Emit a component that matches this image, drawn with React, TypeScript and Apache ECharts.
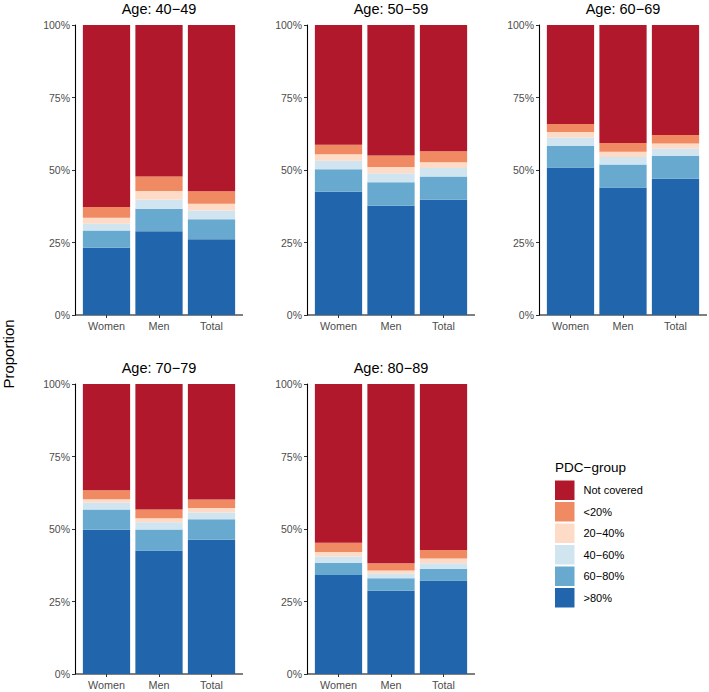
import React, { useEffect, useRef } from "react";
import * as echarts from "echarts";

const CATEGORIES = ["Women", "Men", "Total"];
const PANEL_TITLES = ["Age: 40−49", "Age: 50−59", "Age: 60−69", "Age: 70−79", "Age: 80−89"];
const GROUPS = [">80%", "60−80%", "40−60%", "20−40%", "<20%", "Not covered"];
const LEGEND_ORDER = ["Not covered", "<20%", "20−40%", "40−60%", "60−80%", ">80%"];
const Y_TICKS = [0, 25, 50, 75, 100];

// values per group: [panel][Women, Men, Total], in percent
const OVER_80 = [
  [23.2, 28.9, 26.1],
  [42.5, 37.7, 39.7],
  [50.9, 44.0, 47.0],
  [49.7, 42.6, 46.3],
  [34.1, 28.7, 32.2],
];
const P60_80 = [
  [5.9, 7.7, 6.9],
  [7.8, 8.1, 8.1],
  [7.4, 7.9, 7.8],
  [7.0, 7.2, 7.1],
  [4.3, 4.3, 4.1],
];
const P40_60 = [
  [2.4, 3.2, 3.0],
  [2.9, 3.1, 2.9],
  [2.9, 2.6, 2.5],
  [2.4, 2.5, 2.3],
  [2.1, 1.6, 1.9],
];
const P20_40 = [
  [2.0, 3.0, 2.4],
  [2.2, 2.1, 2.0],
  [1.9, 1.8, 1.8],
  [1.2, 1.4, 1.5],
  [1.6, 1.1, 1.6],
];
const UNDER_20 = [
  [3.7, 5.0, 4.3],
  [3.3, 4.0, 3.8],
  [2.8, 3.0, 3.0],
  [3.1, 3.0, 3.0],
  [3.2, 2.5, 3.0],
];
const NOT_COVERED = [
  [62.8, 52.2, 57.3],
  [41.3, 45.0, 43.5],
  [34.1, 40.7, 37.9],
  [36.6, 43.3, 39.8],
  [54.7, 61.8, 57.2],
];

const GROUP_VALUES = [OVER_80, P60_80, P40_60, P20_40, UNDER_20, NOT_COVERED];
const COLORS = ["#2166AC", "#67A9CF", "#D1E5F0", "#FDDBC7", "#EF8A62", "#B2182B"];

const FONT = "Liberation Sans, Arial, Helvetica, sans-serif";

export default function App() {
  const ref = useRef<HTMLDivElement>(null);

  useEffect(() => {
    if (!ref.current) return;
    const chart = echarts.init(ref.current, undefined, { renderer: "svg" });

    const lefts = [75, 307, 539, 75, 307];
    const tops = [25, 25, 25, 384, 384];
    const W = 168;
    const H = 290;
    const u = W / 3.2;

    const grids: any[] = [];
    const xAxes: any[] = [];
    const yAxes: any[] = [];
    const series: any[] = [];
    const titles: any[] = [];
    const graphics: any[] = [];

    PANEL_TITLES.forEach((t, p) => {
      const L = lefts[p];
      const T = tops[p];
      grids.push({ left: L + 0.1 * u, top: T, width: 3 * u, height: H, containLabel: false });
      xAxes.push({
        type: "category",
        gridIndex: p,
        data: CATEGORIES,
        axisLine: { show: false },
        axisTick: { show: true, alignWithLabel: true, length: 3, lineStyle: { color: "#333", width: 1 } },
        axisLabel: { color: "#4D4D4D", fontSize: 10.8, fontFamily: FONT, margin: 5 },
        splitLine: { show: false },
      });
      yAxes.push({
        type: "value",
        gridIndex: p,
        min: 0,
        max: 100,
        interval: 25,
        offset: 0.1 * u,
        axisLine: { show: true, lineStyle: { color: "#000", width: 1.1 } },
        axisTick: { show: true, length: 3, lineStyle: { color: "#333", width: 1 } },
        axisLabel: {
          color: "#4D4D4D",
          fontSize: 10.5,
          fontFamily: FONT,
          margin: 5,
          formatter: (v: number) => (Y_TICKS.includes(v) ? `${v}%` : ""),
        },
        splitLine: { show: false },
      });
      titles.push({
        text: t,
        left: L + W / 2,
        top: T - 23.5,
        padding: 0,
        textAlign: "center",
        textStyle: { fontSize: 14.5, fontWeight: "normal", color: "#000", fontFamily: FONT },
      });
      graphics.push({
        type: "line",
        shape: { x1: L, y1: T + H, x2: L + W, y2: T + H },
        style: { stroke: "#000", lineWidth: 1.1 },
      });
      GROUPS.forEach((g, gi) => {
        series.push({
          type: "bar",
          name: g,
          stack: "panel" + p,
          xAxisIndex: p,
          yAxisIndex: p,
          barWidth: "90%",
          data: GROUP_VALUES[gi][p],
          itemStyle: { color: COLORS[gi] },
        });
      });
    });

    titles.push({
      text: "PDC−group",
      left: 555,
      top: 460,
      padding: 0,
      textStyle: { fontSize: 13.5, fontWeight: "normal", color: "#000", fontFamily: FONT },
    });

    graphics.push({
      type: "text",
      x: 8,
      y: 354,
      rotation: Math.PI / 2,
      style: {
        text: "Proportion",
        fontSize: 15,
        fontFamily: FONT,
        fill: "#000",
        textAlign: "center",
        textVerticalAlign: "middle",
      },
    });

    chart.setOption({
      animation: false,
      backgroundColor: "#fff",
      title: titles,
      grid: grids,
      xAxis: xAxes,
      yAxis: yAxes,
      series,
      legend: {
        data: LEGEND_ORDER,
        orient: "vertical",
        left: 555,
        top: 480.5,
        padding: 0,
        itemWidth: 19.5,
        itemHeight: 19.5,
        itemGap: 2,
        icon: "rect",
        selectedMode: false,
        itemStyle: { borderWidth: 0 },
        textStyle: { fontSize: 11, fontFamily: FONT, color: "#000", padding: [0, 0, 0, 4] },
      },
      graphic: graphics,
    });

    return () => chart.dispose();
  }, []);

  return (
    <div
      ref={ref}
      style={{ position: "fixed", left: 0, top: 0, width: 709, height: 692 }}
    />
  );
}
